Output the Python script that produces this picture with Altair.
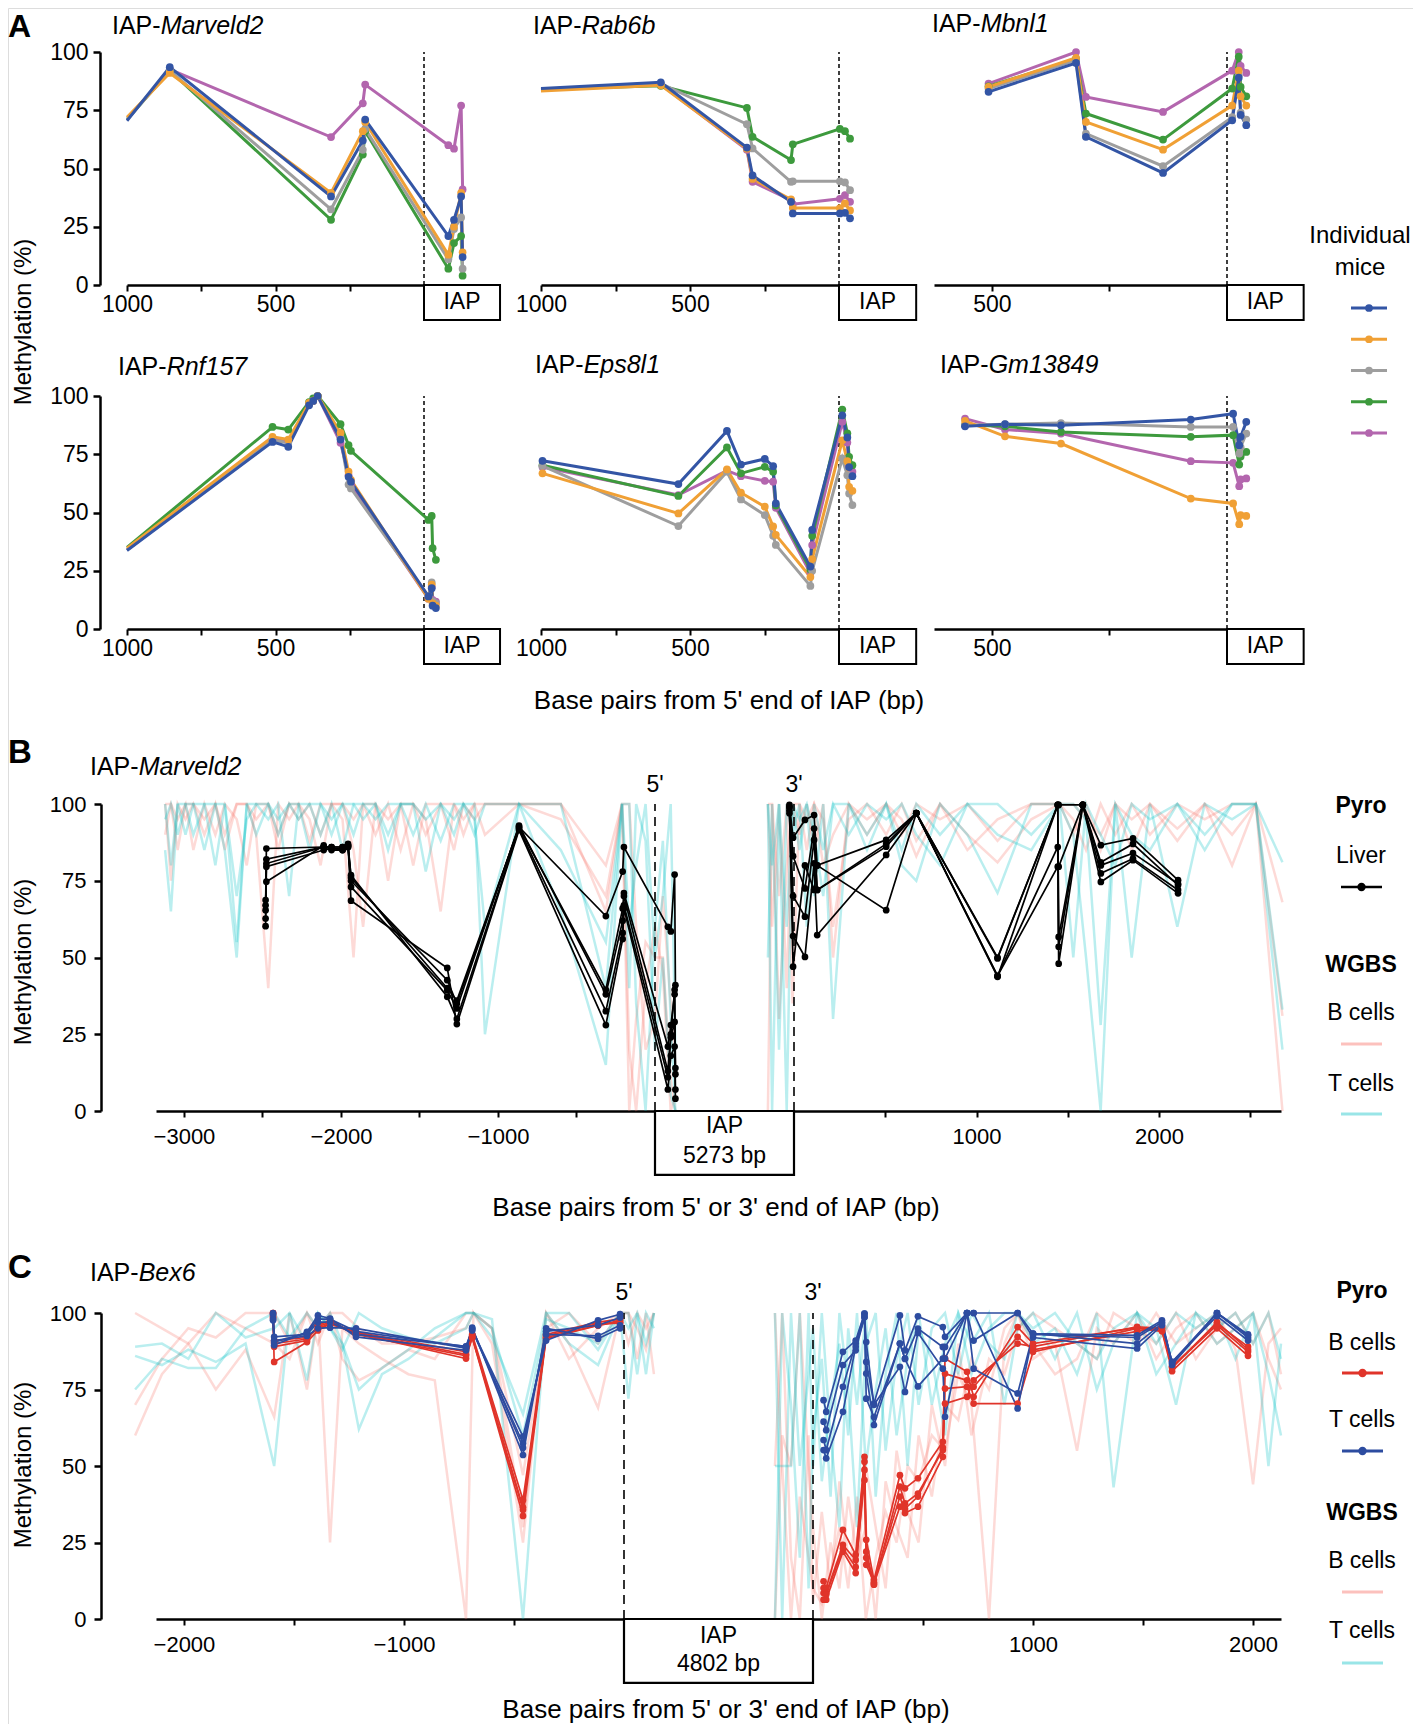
import altair as alt
import pandas as pd

FONT = "Liberation Sans, Arial, Helvetica, sans-serif"
W, H = 1405, 1716

# ------------------------------------------------------------------ Panel A data
MICE = ["Mouse 1", "Mouse 2", "Mouse 3", "Mouse 4", "Mouse 5"]
MICE_COLORS = ["#3355A5", "#F0A035", "#9E9E9E", "#3D9A3D", "#B366AE"]

MARVELD2_BP = [1000, 856, 313, 206, 198, -82, -101, -125, -130]
MARVELD2 = [
    [70.5, 93.5, 38, 62, 71, 21, 28, 38, 12],
    [72, 91, 39.5, 66, 70, 13, 25, 39.5, 14],
    [71, 92, 32.5, 58, 67, 11, 24, 29, 7],
    [71, 92, 28, 56, 66, 7, 18, 21, 4],
    [None, 92.5, 63.5, 78, 86, 60, 58.5, 77, 41],
]
RAB6B_BP = [1000, 598, 309, 290, 161, 155, -3, -20, -37]
RAB6B = [
    [84.3, 87, 59, 47, 35.7, 30.7, 30.7, 31, 28.6],
    [83.3, 85.7, 58.5, 45.5, 36.7, 33, 33, 35, 32],
    [84, 86.5, 69, 58.6, 44.3, 44.5, 44.5, 44, 40.7],
    [84, 85.5, 76, 63.6, 53.6, 60.4, 67, 66, 62.8],
    [84, 86, 58, 44.3, 36.4, 34.7, 37, 38.6, 35.7],
]
MBNL1_BP = [507, 321, 300, 136, -11, -25, -29, -41]
MBNL1 = [
    [82.9, 95.3, 63.6, 48.1, 70.7, 89, 73, 68.6],
    [85, 97.5, 70, 58.1, 77, 92, 81, 77],
    [84.3, 96.5, 65, 51, 72, 90, 74, 71],
    [85.3, 97, 73.6, 62.4, 84.3, 98, 85, 81],
    [86.4, 100, 80.7, 74.3, 92, 100, 94, 91],
]
RNF157_BP = [1000, 510, 457, 387, 373, 358, 281, 254, 246, -15, -26, -29, -40]
RNF157 = [
    [33.7, 80.3, 78.2, 96, 97.9, 100, 81.3, 65.3, 63.2, 14, 17.5, 10, 9],
    [34.7, 82.5, 81.3, 97, 98, 100, 84.2, 67.5, 64, 13, 19, 11, 10],
    [34, 81, 80, 96.5, 98, 100, 82, 62, 60.3, 14, 20, 12, 11],
    [35, 86.7, 85.6, 97.4, 99, 100, 87.9, 78.9, 76.5, 46.8, 48.5, 34.7, 29.7],
    [34, 81.5, 80.5, 96.5, 98, 100, 79.9, 66, 62, 13, 18, 12.5, 11.8],
]
EPS8L1_BP = [995, 539, 376, 329, 249, 221, 212, 96, 90, -11, -28, -34, -45]
EPS8L1 = [
    [72.2, 62.2, 85, 70.6, 73, 69.9, 53.9, 26.8, 42.5, 91.7, 82.2, 69.5, 65.6],
    [66.8, 49.6, 68.5, 58.5, 52.5, 44, 40.4, 22.3, 30, 81, 72, 61, 59.3],
    [70, 44.2, 67.5, 55.6, 48.9, 40, 36.1, 18.5, 25, 73.2, 66, 58.2, 53.2],
    [70.3, 57.1, 77.9, 66.8, 69.6, 67.5, 53, 25.5, 40, 94.2, 84, 73.9, 70.3],
    [69.5, 57.5, 68, 65.6, 63.6, 63.2, 52, 24, 36, 88.9, 80, 70, 67.5],
]
GM13849_BP = [557, 472, 353, 77, -13, -26, -29, -41]
GM13849 = [
    [87, 87.9, 87.4, 89.9, 92.4, 78.9, 82.5, 88.9],
    [89.3, 82.7, 79.6, 56, 53.9, 45, 48.9, 48.5],
    [87.5, 87.9, 88.4, 86.7, 86.7, 75.3, 78, 83.9],
    [87.5, 87, 84.6, 82.5, 83.2, 70.6, 74, 76],
    [90.3, 85.6, 83.9, 72, 71.3, 61.3, 64.2, 64.6],
]

# ------------------------------------------------------------------ Panel B data (IAP-Marveld2)
IAP_LEN_B = 5273
B_PYRO_L_BP = [-2480, -2475, -2110, -2060, -1990, -1955, -1936, -1323, -1262, -866,
               -313, -206, -198, 82, 101, 125, 130]
B_PYRO_L = [
    [65.4, 82, 86, 85.5, 85.5, 86.5, 73, 39.3, 33.4, 93, 38, 62, 71, 21, 28, 38, 12],
    [62.7, 80.6, 86, 86, 86, 86, 75, 42.6, 35, 92.5, 39.5, 66, 70, 13, 25, 39.5, 14],
    [60.2, 79.6, 85, 85.5, 85, 86, 76.8, 37.2, 30, 92, 32.5, 58, 67, 11, 24, 29, 7],
    [68.7, 74.7, 86.5, 85, 85, 86.5, 68.5, 46.6, 28.3, 91.5, 28, 56, 66, 7, 18, 21, 4],
    [67, 85.5, 86, 86, 86, 87, 76, 40, 36, 92.5, 63.5, 78, 86, 60, 58.5, 77, 41],
]
B_PYRO_R_BP = [-25, -5, 60, 110, 127, 505, 670, 1115, 1445, 1450, 1582, 1681, 1857, 2104]
B_PYRO_R = [
    [99.7, 89, 94.8, 96.4, 80, 88.3, 97, 49.7, 99.7, 56.7, 99.7, 86.6, 88.8, 75.2],
    [99, 83, 72.5, 92, 72, 87, 97, 43.7, 99.7, 53.5, 99.7, 81, 87, 73.6],
    [98, 70, 63.3, 88.3, 72, 86.1, 97, 44, 86, 48, 99.7, 77.4, 82.2, 72],
    [97, 57, 50.2, 80.7, 57.3, 83.4, 97, 44, 79.6, 79.6, 99.7, 74.6, 81.7, 70.9],
    [99, 47, 80, 72, 80, 65.4, 97, 50, 99.7, 99.7, 99.7, 80, 84, 74],
]
B_WGBS_L_BP = [-3120, -3083, -3040, -2990, -2940, -2870, -2800, -2740, -2664, -2600,
               -2540, -2463, -2400, -2330, -2270, -2200, -2130, -2060, -1990, -1920,
               -1859, -1780, -1700, -1620, -1540, -1460, -1365, -1280, -1220, -1150,
               -1083, -866, -600, -313, -210, -164, -120, -60, 0, 50,
               100, 130]
B_WGBS_L_BCELL = [
    [100, 75, 100, 95, 100, 90, 100, 85, 100, 100,
     90, 40, 100, 95, 100, 88, 100, 100, 95, 50,
     100, 90, 100, 85, 100, 95, 65, 100, 90, 100,
     100, 100, 95, 70, 100, 0, 30, 55, 50, 50,
     10, 0],
    [90, 100, 95, 100, 85, 100, 90, 100, 95, 80,
     100, 100, 85, 100, 95, 100, 90, 100, 100, 85,
     60, 100, 95, 100, 80, 100, 100, 85, 100, 95,
     100, 100, 100, 65, 100, 20, 0, 40, 60, 45,
     0, 5],
    [100, 100, 85, 100, 100, 95, 100, 90, 100, 100,
     95, 100, 90, 100, 100, 95, 80, 100, 100, 95,
     100, 100, 75, 100, 100, 90, 100, 100, 95, 100,
     90, 100, 100, 80, 100, 100, 60, 20, 30, 70,
     35, 15],
]
B_WGBS_L_TCELL = [
    [85, 65, 100, 90, 100, 100, 80, 100, 55, 100,
     100, 95, 100, 70, 100, 100, 90, 100, 85, 100,
     100, 100, 90, 100, 100, 78, 100, 95, 100, 100,
     25, 100, 85, 55, 100, 40, 100, 88, 20, 50,
     5, 0],
    [100, 80, 100, 100, 90, 100, 100, 85, 50, 100,
     90, 100, 95, 100, 100, 85, 100, 95, 100, 90,
     100, 95, 100, 100, 90, 100, 88, 100, 100, 90,
     100, 100, 65, 15, 100, 100, 35, 0, 60, 88,
     30, 0],
    [95, 100, 90, 100, 100, 85, 100, 100, 70, 95,
     100, 100, 90, 100, 95, 100, 100, 90, 100, 100,
     95, 100, 85, 100, 100, 95, 100, 90, 100, 95,
     60, 100, 100, 40, 100, 60, 80, 100, 50, 70,
     100, 20],
]
B_WGBS_R_BP = [-143, -120, -82, -40, -8, 30, 70, 110, 160, 214,
               300, 400, 505, 590, 670, 800, 950, 1115, 1300, 1455,
               1530, 1600, 1680, 1760, 1850, 1950, 2100, 2250, 2400, 2530,
               2676]
B_WGBS_R_BCELL = [
    [100, 60, 100, 40, 100, 90, 100, 85, 100, 50,
     100, 90, 100, 95, 83, 100, 90, 81, 95, 100,
     90, 100, 85, 100, 95, 100, 88, 100, 90, 100,
     0],
    [0, 100, 70, 100, 35, 100, 95, 100, 80, 90,
     100, 95, 100, 90, 100, 95, 100, 88, 100, 100,
     95, 85, 100, 90, 100, 90, 100, 95, 100, 100,
     31],
    [100, 100, 30, 80, 100, 100, 85, 100, 95, 60,
     95, 100, 90, 100, 88, 100, 85, 95, 100, 100,
     100, 95, 90, 100, 85, 100, 92, 100, 80, 100,
     68],
]
B_WGBS_R_TCELL = [
    [100, 0, 100, 60, 100, 85, 100, 70, 100, 30,
     100, 85, 100, 80, 75, 100, 90, 71, 100, 100,
     90, 50, 0, 100, 50, 100, 60, 100, 95, 100,
     20],
    [50, 100, 20, 100, 90, 100, 60, 100, 85, 100,
     90, 100, 95, 100, 90, 80, 100, 90, 85, 100,
     100, 95, 28, 100, 90, 85, 100, 90, 100, 100,
     81],
    [100, 80, 100, 0, 100, 95, 100, 90, 70, 100,
     100, 90, 100, 85, 100, 90, 100, 100, 90, 100,
     50, 100, 90, 80, 100, 95, 100, 85, 100, 100,
     33],
]

# ------------------------------------------------------------------ Panel C data (IAP-Bex6)
IAP_LEN_C = 4802
C_PYRO_L_BP = [-1595, -1590, -1441, -1391, -1336, -1218, -718, -690, -459, -354, -118, -18]
C_PYRO_L_BCELL = [
    [100, 84, 90.5, 94.3, 96.5, 93.3, 85.1, 92, 33.7, 91.6, 95.9, 97.6],
    [99, 90, 91.5, 95.5, 97, 93.5, 86.5, 92.5, 35.7, 92.5, 96.5, 96.7],
    [98.5, 91, 92, 95, 96.5, 93.8, 87.3, 93, 38.9, 93, 97, 98],
    [100, 89, 91, 96, 97.5, 93, 86, 92, 36.5, 92, 96, 97],
]
C_PYRO_L_TCELL = [
    [99.5, 89.5, 93.8, 99.2, 98.2, 92.2, 87.8, 95.2, 53.6, 95, 91.6, 95],
    [98, 92.2, 93, 97, 97, 93, 89.1, 94.3, 57.4, 93, 92.5, 96],
    [97.6, 91, 92.5, 95, 95.2, 95, 88.5, 94.5, 59.6, 91, 97.6, 99.6],
    [100, 90.5, 93.5, 98, 98, 94, 89, 95, 56, 94, 96, 98.5],
]
C_PYRO_R_BP = [48, 60, 136, 194, 234, 242, 277, 395, 418, 477, 590, 600, 700, 730,
               930, 1000, 1473, 1586, 1632, 1836, 1977]
C_PYRO_R_BCELL = [
    [12.3, 10.1, 29.1, 21, 53, 25.9, 12.8, 47, 42.7, 46, 57.9, 85.1, 80.8, 72.6, 95.4, 90, 95.2, 94.3, 82.4, 96, 87.3],
    [10.1, 8.5, 24.2, 19.3, 51.4, 20, 11.2, 43.3, 37.8, 41, 55.2, 80.2, 78, 75.9, 92.2, 88, 94, 95.5, 82, 97, 88],
    [8.5, 6.3, 22, 15, 48.7, 17.7, 12, 40, 34.6, 36.7, 53, 75.3, 75.9, 70.4, 70.4, 87.3, 95, 94, 81, 95, 86],
    [6.3, 8, 23, 17, 45.4, 22, 11.5, 36.7, 36, 40, 56, 70.4, 72.6, 78, 90, 89, 95.5, 95, 82.5, 96.5, 89],
]
C_PYRO_R_TCELL = [
    [71.5, 67.7, 87.3, 91, 99.8, 84, 70.4, 99.2, 87.8, 98.9, 95.4, 92.2, 100, 91, 100, 93.3, 92.7, 97.6, 83.5, 100, 92.7],
    [64.5, 61.7, 83, 87.8, 98.7, 80.2, 63.4, 90, 85.1, 94.9, 88.9, 85.1, 100, 100, 100, 92, 88.4, 96, 84, 99, 91],
    [58.5, 55.2, 75.9, 90, 99.8, 90.5, 70, 82.4, 74.2, 93.5, 81.8, 66.1, 100, 81.8, 73.7, 93, 92, 97, 83, 100, 92],
    [55.2, 52.5, 67.7, 89, 98.7, 72, 66, 90, 85, 76, 85.1, 88.9, 100, 100, 68.8, 93.3, 90, 96.5, 84, 100, 93],
]
C_WGBS_L_BP = [-2222, -2100, -1980, -1855, -1720, -1590, -1520, -1441, -1391, -1336,
               -1280, -1205, -1100, -980, -860, -718, -684, -600, -459, -354,
               -250, -118, -18, 20, 60, 100, 136]
C_WGBS_L_BCELL = [
    [60, 80, 90, 75, 88, 66, 100, 75, 100, 25,
     95, 90, 85, 80, 78, 0, 100, 90, 25, 100,
     85, 95, 100, 100, 85, 100, 80],
    [70, 85, 95, 92, 100, 100, 90, 100, 95, 100,
     85, 78, 82, 88, 85, 100, 100, 95, 47, 95,
     100, 90, 100, 90, 100, 95, 100],
    [100, 95, 90, 100, 95, 90, 85, 100, 90, 100,
     100, 95, 90, 90, 92, 95, 100, 95, 30, 100,
     90, 69, 100, 100, 95, 88, 100],
]
C_WGBS_L_TCELL = [
    [86, 83, 88, 84, 90, 50, 100, 78, 100, 95,
     90, 62, 80, 85, 92, 100, 100, 92, 67, 100,
     90, 83, 100, 72, 100, 90, 100],
    [75, 85, 82, 82, 95, 100, 92, 100, 95, 100,
     90, 75, 82, 88, 95, 100, 100, 95, 60, 98,
     95, 90, 100, 100, 80, 100, 95],
    [89, 90, 85, 100, 92, 95, 100, 90, 100, 95,
     88, 100, 95, 92, 90, 95, 100, 98, 0, 100,
     100, 88, 100, 95, 100, 80, 100],
]
C_WGBS_R_BP = [-173, -140, -100, -60, -20, 0, 40, 80, 120, 160,
               200, 240, 285, 330, 380, 430, 480, 540, 600, 660,
               720, 800, 870, 930, 1000, 1100, 1200, 1290, 1366, 1473,
               1560, 1650, 1740, 1836, 1920, 2000, 2070, 2127]
C_WGBS_R_BCELL = [
    [100, 50, 0, 40, 20, 10, 5, 15, 30, 10,
     40, 0, 20, 35, 25, 50, 45, 60, 55, 80,
     70, 0, 90, 100, 85, 90, 55, 95, 90, 100,
     85, 95, 100, 90, 95, 100, 85, 75],
    [0, 60, 50, 100, 50, 30, 0, 25, 10, 40,
     20, 30, 0, 45, 30, 20, 60, 40, 70, 65,
     85, 75, 95, 100, 90, 80, 85, 100, 95, 90,
     100, 90, 95, 100, 88, 44, 90, 95],
    [50, 100, 20, 0, 60, 5, 35, 10, 45, 20,
     15, 50, 30, 10, 55, 35, 25, 70, 50, 90,
     60, 85, 80, 95, 100, 95, 90, 85, 100, 95,
     90, 100, 85, 95, 100, 90, 100, 80],
]
C_WGBS_R_TCELL = [
    [100, 0, 100, 50, 80, 95, 45, 70, 90, 60,
     100, 50, 75, 95, 60, 85, 100, 70, 90, 100,
     80, 95, 100, 100, 90, 95, 80, 100, 43, 100,
     90, 100, 95, 100, 85, 100, 50, 90],
    [50, 50, 50, 100, 10, 60, 85, 40, 100, 75,
     30, 90, 100, 55, 85, 100, 70, 95, 100, 80,
     100, 90, 85, 100, 95, 100, 90, 85, 95, 100,
     80, 90, 100, 95, 100, 90, 100, 85],
    [0, 100, 70, 20, 100, 50, 100, 60, 30, 95,
     70, 100, 40, 80, 100, 50, 95, 85, 60, 100,
     90, 100, 70, 95, 100, 85, 100, 75, 90, 100,
     95, 70, 100, 90, 95, 100, 80, 60],
]

RED, BLUE, PINK, CYAN = "#E0342A", "#2D4CA0", "#F8766D", "#00BFC4"


# ------------------------------------------------------------------ helpers
def lin(dom, rng):
    return alt.Scale(domain=list(dom), range=list(rng), nice=False, zero=False)


ONE = pd.DataFrame({"k": [0]})


def long_df(bp, series, names, colors):
    rows = []
    for vals, name, col in zip(series, names, colors):
        assert len(vals) == len(bp), (name, len(vals), len(bp))
        for b, v in zip(bp, vals):
            if v is None:
                continue
            rows.append({"bp": b, "val": v, "series": name, "color": col})
    return pd.DataFrame(rows)


def txt(x, y, s, size=23, weight="normal", style="normal", align="left",
        baseline="alphabetic", angle=None):
    kw = dict(font=FONT, fontSize=size, fontWeight=weight, fontStyle=style,
              align=align, baseline=baseline, color="black")
    if angle is not None:
        kw["angle"] = angle
    return alt.Chart(ONE).mark_text(**kw).encode(
        x=alt.value(x), y=alt.value(y), text=alt.value(s))


def gene_title(x, y, gene, size=25):
    return [txt(x, y, "IAP-", size), txt(x + 1.945 * size, y, gene, size, style="italic")]


def xaxis(y_px, values, expr, size, pad):
    return alt.Axis(orient="bottom", offset=y_px - H, values=values, labelExpr=expr,
                    format="d", tickSize=6, tickWidth=2, domainWidth=2.5,
                    labelFontSize=size, labelPadding=pad, labelFlush=False,
                    labelOverlap=False, grid=False, title=None, labelFont=FONT,
                    labelColor="black", tickColor="black", domainColor="black")


def yaxis(x_px, size, pad):
    return alt.Axis(orient="left", offset=-x_px, values=[0, 25, 50, 75, 100], format="d",
                    tickSize=7, tickWidth=2.5, domainWidth=2.5, labelFontSize=size,
                    labelPadding=pad, grid=False, title=None, labelFont=FONT,
                    labelColor="black", tickColor="black", domainColor="black")


layers = []

# ------------------------------------------------------------------ Panel A
ROW_Y = [(277, 44), (621, 388)]
COLS = [
    dict(dom=(1000, 0), rng=(119, 416), box=256, ticks=[1000, 750, 500, 250]),
    dict(dom=(1000, 0), rng=(533, 831), box=259, ticks=[1000, 750, 500, 250]),
    dict(dom=(623, 0), rng=(926, 1219), box=163, ticks=[500, 250]),
]
A_PANELS = [
    (0, 0, "Marveld2", MARVELD2_BP, MARVELD2, (104, 26)),
    (0, 1, "Rab6b", RAB6B_BP, RAB6B, (525, 26)),
    (0, 2, "Mbnl1", MBNL1_BP, MBNL1, (924, 24)),
    (1, 0, "Rnf157", RNF157_BP, RNF157, (110, 367)),
    (1, 1, "Eps8l1", EPS8L1_BP, EPS8L1, (527, 365)),
    (1, 2, "Gm13849", GM13849_BP, GM13849, (932, 365)),
]
for r, c, gene, bp, vals, (tx, ty) in A_PANELS:
    col = COLS[c]
    yr = ROW_Y[r]
    xs = lin(col["dom"], col["rng"])
    ys = lin([0, 100], yr)
    df = long_df(bp, vals[::-1], MICE[::-1], MICE_COLORS[::-1])
    xax = xaxis(yr[0], col["ticks"],
                "datum.value == 1000 || datum.value == 500 ? datum.label : ''", 23, 2)
    yax = yaxis(92, 23, 5) if c == 0 else None
    rule = alt.Chart(pd.DataFrame({"x": [0], "y": [0], "y2": [100]})).mark_rule(
        strokeDash=[4, 3], strokeWidth=1.5, color="black").encode(
        x=alt.X("x:Q", scale=xs, axis=None), y=alt.Y("y:Q", scale=ys, axis=None), y2="y2:Q")
    box = alt.Chart(pd.DataFrame({"x": [0], "x2": [-col["box"]], "y": [0], "y2": [-15]})).mark_rect(
        fill="white", stroke="black", strokeWidth=2).encode(
        x=alt.X("x:Q", scale=xs, axis=None), x2="x2:Q",
        y=alt.Y("y:Q", scale=ys, axis=None), y2="y2:Q")
    boxt = alt.Chart(pd.DataFrame({"x": [-col["box"] / 2], "y": [-7.5], "t": ["IAP"]})).mark_text(
        font=FONT, fontSize=23, align="center", baseline="middle", color="black").encode(
        x=alt.X("x:Q", scale=xs, axis=None), y=alt.Y("y:Q", scale=ys, axis=None), text="t:N")
    lines = alt.Chart(df).mark_line(strokeWidth=3).encode(
        x=alt.X("bp:Q", scale=xs, axis=xax), y=alt.Y("val:Q", scale=ys, axis=yax),
        color=alt.Color("color:N", scale=None), detail="series:N")
    pts = alt.Chart(df).transform_filter("datum.bp < 999").mark_circle(size=60, opacity=1).encode(
        x=alt.X("bp:Q", scale=xs, axis=None), y=alt.Y("val:Q", scale=ys, axis=None),
        color=alt.Color("color:N", scale=None))
    layers += [rule, lines, pts, box, boxt] + gene_title(tx, ty, gene)

layers.append(txt(0, 29, "A", 32, weight="bold"))
layers.append(txt(16, 314, "Methylation (%)", 24, align="center", baseline="middle", angle=270))
layers.append(txt(721, 701, "Base pairs from 5' end of IAP (bp)", 26, align="center"))
# legend A
layers.append(txt(1352, 235, "Individual", 24, align="center"))
layers.append(txt(1352, 267, "mice", 24, align="center"))
LEG_A = pd.DataFrame({"k": list(range(5)), "color": MICE_COLORS})
lys = lin([0, 4], [300, 425])
layers.append(alt.Chart(LEG_A).mark_rule(strokeWidth=3).encode(
    x=alt.value(1343), x2=alt.value(1379), y=alt.Y("k:Q", scale=lys, axis=None),
    color=alt.Color("color:N", scale=None)))
layers.append(alt.Chart(LEG_A).mark_circle(size=60, opacity=1).encode(
    x=alt.value(1361), y=alt.Y("k:Q", scale=lys, axis=None),
    color=alt.Color("color:N", scale=None)))


# ------------------------------------------------------------------ Panels B and C
def wide_panel(yr, lsc, rsc, gsc, iap_len, wgbs_l, wgbs_r, pyro_l, pyro_r,
               pyro_colors, lticks, rticks, box_bottom, t1y, t2y, lab_y, dash):
    out = []
    ys = lin([0, 100], yr)
    names = ["B1", "B2", "B3", "T1", "T2", "T3"]
    wcols = [PINK] * 3 + [CYAN] * 3
    for (bp, ser), sc in ((wgbs_l, lsc), (wgbs_r, rsc)):
        df = long_df(bp, ser, names, wcols)
        out.append(alt.Chart(df).mark_line(strokeWidth=2.5, opacity=0.27).encode(
            x=alt.X("bp:Q", scale=sc, axis=None), y=alt.Y("val:Q", scale=ys, axis=None),
            color=alt.Color("color:N", scale=None), detail="series:N"))
    # dashed IAP ends
    out.append(alt.Chart(pd.DataFrame({"x": [0, iap_len], "y": [0, 0], "y2": [100, 100]})).mark_rule(
        strokeDash=dash, strokeWidth=1.6, color="black").encode(
        x=alt.X("x:Q", scale=gsc, axis=None), y=alt.Y("y:Q", scale=ys, axis=None), y2="y2:Q"))
    expr = "datum.value % 1000 == 0 ? datum.label : ''"
    for k, ((bp, ser), sc) in enumerate(((pyro_l, lsc), (pyro_r, rsc))):
        nm = ["S%d" % i for i in range(len(ser))]
        df = long_df(bp, ser, nm, pyro_colors)
        xax = xaxis(yr[0], lticks if k == 0 else rticks, expr, 22, 9)
        yax = yaxis(93, 22, 8) if k == 0 else None
        out.append(alt.Chart(df).mark_line(strokeWidth=1.7).encode(
            x=alt.X("bp:Q", scale=sc, axis=xax), y=alt.Y("val:Q", scale=ys, axis=yax),
            color=alt.Color("color:N", scale=None), detail="series:N"))
        out.append(alt.Chart(df).mark_circle(size=45, opacity=1).encode(
            x=alt.X("bp:Q", scale=sc, axis=None), y=alt.Y("val:Q", scale=ys, axis=None),
            color=alt.Color("color:N", scale=None)))
    # IAP box on the genomic (piecewise) scale
    out.append(alt.Chart(pd.DataFrame({"x": [0], "x2": [iap_len], "y": [0], "y2": [box_bottom]})).mark_rect(
        fill="white", stroke="black", strokeWidth=2.2).encode(
        x=alt.X("x:Q", scale=gsc, axis=None), x2="x2:Q",
        y=alt.Y("y:Q", scale=ys, axis=None), y2="y2:Q"))
    out.append(alt.Chart(pd.DataFrame({"x": [iap_len / 2] * 2, "y": [t1y, t2y],
                                       "t": ["IAP", "%d bp" % iap_len]})).mark_text(
        font=FONT, fontSize=23, align="center", baseline="middle", color="black").encode(
        x=alt.X("x:Q", scale=gsc, axis=None), y=alt.Y("y:Q", scale=ys, axis=None), text="t:N"))
    out.append(alt.Chart(pd.DataFrame({"x": [0, iap_len], "y": [lab_y, lab_y], "t": ["5'", "3'"]})).mark_text(
        font=FONT, fontSize=23, align="center", baseline="alphabetic", color="black").encode(
        x=alt.X("x:Q", scale=gsc, axis=None), y=alt.Y("y:Q", scale=ys, axis=None), text="t:N"))
    return out


# Panel B
layers += wide_panel(
    yr=(1103, 796),
    lsc=lin([-3178, 0], [148, 647]), rsc=lin([0, 2668], [786, 1273]),
    gsc=lin([-3178, 0, IAP_LEN_B, IAP_LEN_B + 2668], [148, 647, 786, 1273]),
    iap_len=IAP_LEN_B,
    wgbs_l=(B_WGBS_L_BP, B_WGBS_L_BCELL + B_WGBS_L_TCELL),
    wgbs_r=(B_WGBS_R_BP, B_WGBS_R_BCELL + B_WGBS_R_TCELL),
    pyro_l=(B_PYRO_L_BP, B_PYRO_L), pyro_r=(B_PYRO_R_BP, B_PYRO_R),
    pyro_colors=["black"] * 5,
    lticks=[-3000, -2500, -2000, -1500, -1000, -500], rticks=[500, 1000, 1500, 2000, 2500],
    box_bottom=-20.8, t1y=-5.0, t2y=-14.5, lab_y=103.8, dash=[9, 6])
layers += gene_title(82, 767, "Marveld2")
layers.append(txt(0, 755, "B", 33, weight="bold"))
layers.append(txt(16, 954, "Methylation (%)", 24, align="center", baseline="middle", angle=270))
layers.append(txt(708, 1208, "Base pairs from 5' or 3' end of IAP (bp)", 26, align="center"))
# legend B
layers.append(txt(1353, 805, "Pyro", 23, weight="bold", align="center"))
layers.append(txt(1353, 855, "Liver", 23, align="center"))
layers.append(alt.Chart(ONE).mark_rule(strokeWidth=2.5, color="black").encode(
    x=alt.value(1333), x2=alt.value(1374), y=alt.value(879)))
layers.append(alt.Chart(ONE).mark_circle(size=70, opacity=1, color="black").encode(
    x=alt.value(1353.5), y=alt.value(879)))
layers.append(txt(1353, 964, "WGBS", 23, weight="bold", align="center"))
layers.append(txt(1353, 1012, "B cells", 23, align="center"))
layers.append(alt.Chart(ONE).mark_rule(strokeWidth=3, color=PINK, opacity=0.45).encode(
    x=alt.value(1333), x2=alt.value(1374), y=alt.value(1036)))
layers.append(txt(1353, 1083, "T cells", 23, align="center"))
layers.append(alt.Chart(ONE).mark_rule(strokeWidth=3, color=CYAN, opacity=0.4).encode(
    x=alt.value(1333), x2=alt.value(1374), y=alt.value(1106)))

# Panel C
layers += wide_panel(
    yr=(1611, 1305),
    lsc=lin([-2127, 0], [148, 616]), rsc=lin([0, 2127], [805, 1273]),
    gsc=lin([-2127, 0, IAP_LEN_C, IAP_LEN_C + 2127], [148, 616, 805, 1273]),
    iap_len=IAP_LEN_C,
    wgbs_l=(C_WGBS_L_BP, C_WGBS_L_BCELL + C_WGBS_L_TCELL),
    wgbs_r=(C_WGBS_R_BP, C_WGBS_R_BCELL + C_WGBS_R_TCELL),
    pyro_l=(C_PYRO_L_BP, C_PYRO_L_BCELL + C_PYRO_L_TCELL),
    pyro_r=(C_PYRO_R_BP, C_PYRO_R_BCELL + C_PYRO_R_TCELL),
    pyro_colors=[RED] * 4 + [BLUE] * 4,
    lticks=[-2000, -1500, -1000, -500], rticks=[500, 1000, 1500, 2000],
    box_bottom=-20.9, t1y=-5.6, t2y=-14.6, lab_y=104.2, dash=[9, 6])
layers += gene_title(82, 1273, "Bex6")
layers.append(txt(0, 1270, "C", 33, weight="bold"))
layers.append(txt(16, 1457, "Methylation (%)", 24, align="center", baseline="middle", angle=270))
layers.append(txt(718, 1710, "Base pairs from 5' or 3' end of IAP (bp)", 26, align="center"))
# legend C
layers.append(txt(1354, 1290, "Pyro", 23, weight="bold", align="center"))
layers.append(txt(1354, 1342, "B cells", 23, align="center"))
layers.append(alt.Chart(ONE).mark_rule(strokeWidth=3, color=RED).encode(
    x=alt.value(1334), x2=alt.value(1375), y=alt.value(1365)))
layers.append(alt.Chart(ONE).mark_circle(size=70, opacity=1, color=RED).encode(
    x=alt.value(1354.5), y=alt.value(1365)))
layers.append(txt(1354, 1419, "T cells", 23, align="center"))
layers.append(alt.Chart(ONE).mark_rule(strokeWidth=3, color=BLUE).encode(
    x=alt.value(1334), x2=alt.value(1375), y=alt.value(1443)))
layers.append(alt.Chart(ONE).mark_circle(size=70, opacity=1, color=BLUE).encode(
    x=alt.value(1354.5), y=alt.value(1443)))
layers.append(txt(1354, 1512, "WGBS", 23, weight="bold", align="center"))
layers.append(txt(1354, 1560, "B cells", 23, align="center"))
layers.append(alt.Chart(ONE).mark_rule(strokeWidth=3, color=PINK, opacity=0.45).encode(
    x=alt.value(1334), x2=alt.value(1375), y=alt.value(1584)))
layers.append(txt(1354, 1630, "T cells", 23, align="center"))
layers.append(alt.Chart(ONE).mark_rule(strokeWidth=3, color=CYAN, opacity=0.4).encode(
    x=alt.value(1334), x2=alt.value(1375), y=alt.value(1655)))

chart = alt.layer(*layers).resolve_scale(x="independent", y="independent").properties(
    width=W, height=H, padding=0, autosize=alt.AutoSizeParams(type="none")
).configure_view(stroke=None).configure(font=FONT)

chart.save("out.html", embed_options={"renderer": "svg", "actions": False})
